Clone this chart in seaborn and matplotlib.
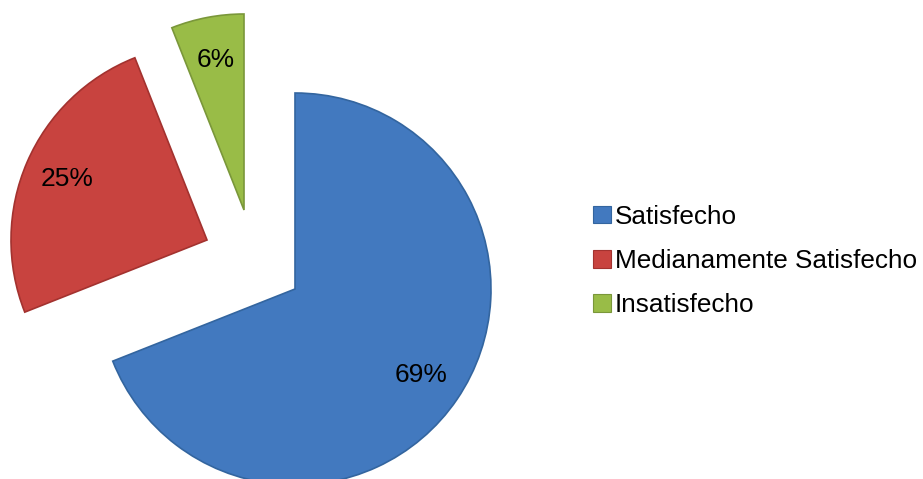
import matplotlib
matplotlib.use("Agg")
import matplotlib.pyplot as plt
import seaborn as sns
from matplotlib.patches import Patch

# Survey satisfaction shares (percent)
categories = ["Satisfecho", "Medianamente Satisfecho", "Insatisfecho"]
shares = [69, 25, 6]

face_colors = ["#4279bf", "#c8433f", "#99bc47"]
edge_colors = ["#33659f", "#a3322f", "#7a973a"]

sns.set_theme(style="white")
plt.rcParams["font.family"] = ["Liberation Sans", "DejaVu Sans"]

fig = plt.figure(figsize=(9.23, 4.79), dpi=100)
ax = fig.add_axes([0, 0, 1, 1])

center = (295, 190)
radius = 196
# displacement of each exploded slice away from the pie centre (canvas units)
slice_shift = [(0, 0), (-88, 49), (-51, 79)]

wedges, texts, autotexts = ax.pie(
    shares,
    colors=face_colors,
    startangle=90,
    counterclock=False,
    center=center,
    radius=radius,
    autopct="%.0f%%",
    pctdistance=0.78,
    textprops=dict(fontsize=19, color="black"),
    wedgeprops=dict(linewidth=1.2),
    frame=True,
)

for w, t, ec, (dx, dy) in zip(wedges, autotexts, edge_colors, slice_shift):
    cx, cy = w.center
    w.set_center((cx + dx, cy + dy))
    w.set_edgecolor(ec)
    tx, ty = t.get_position()
    t.set_position((tx + dx, ty + dy))

ax.set_xlim(0, 923)
ax.set_ylim(0, 479)
ax.set_aspect("equal")
ax.axis("off")

handles = [Patch(facecolor=fc, edgecolor=ec, linewidth=0.8) for fc, ec in zip(face_colors, edge_colors)]
leg = ax.legend(
    handles=handles,
    labels=categories,
    loc="center left",
    bbox_to_anchor=(593 / 923, (479 - 261) / 479),
    bbox_transform=fig.transFigure,
    frameon=False,
    fontsize=18.8,
    labelcolor="black",
    handlelength=0.68,
    handleheight=0.68,
    handletextpad=0.15,
    labelspacing=0.78,
    borderpad=0,
    borderaxespad=0,
)

fig.savefig("out.png", dpi=100, facecolor="white")
